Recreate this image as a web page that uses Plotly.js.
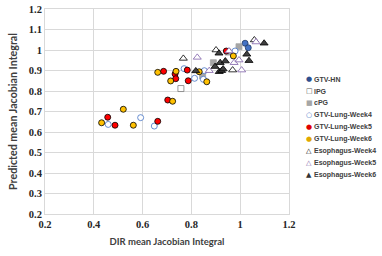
<!DOCTYPE html>
<html><head><meta charset="utf-8">
<script src="https://cdn.plot.ly/plotly-3.0.1.min.js"></script>
<style>html,body{margin:0;padding:0;background:#fff}#chart{width:382px;height:256px}</style>
</head><body><div id="chart"></div>
<script>
// ---- data ----
const seriesNames = ["GTV-HN","lPG","cPG","GTV-Lung-Week4","GTV-Lung-Week5","GTV-Lung-Week6","Esophagus-Week4","Esophagus-Week5","Esophagus-Week6"];

const hnX = [1.020, 1.033];
const hnY = [1.033, 1.011];

const lpgX = [0.757];
const lpgY = [0.812];

const cpgX = [0.846, 0.890, 0.950, 0.995];
const cpgY = [0.873, 0.938, 0.990, 1.016];

const lung4X = [0.459, 0.592, 0.648, 0.770, 0.813, 0.853, 0.849, 0.979];
const lung4Y = [0.637, 0.670, 0.629, 0.909, 0.862, 0.899, 0.857, 0.995];

const lung5X = [0.457, 0.487, 0.662, 0.703, 0.686, 0.733, 0.736, 0.783, 0.787, 0.943];
const lung5Y = [0.672, 0.633, 0.652, 0.756, 0.896, 0.883, 0.860, 0.902, 0.850, 0.995];

const lung6X = [0.432, 0.521, 0.562, 0.723, 0.662, 0.737, 0.715, 0.832, 0.863, 0.972];
const lung6Y = [0.645, 0.711, 0.633, 0.750, 0.891, 0.896, 0.849, 0.894, 0.845, 0.971];

const eso4X = [0.767, 0.901, 0.969, 1.058];
const eso4Y = [0.959, 1.000, 0.902, 1.049];

const eso5X = [0.824, 0.873, 0.954, 0.975, 0.995, 1.006, 1.065];
const eso5Y = [0.964, 0.899, 0.995, 0.938, 0.951, 0.902, 1.039];

const eso6X = [0.818, 0.897, 0.918, 0.914, 0.924, 0.930, 0.913, 0.939, 1.027, 1.036, 1.098];
const eso6Y = [0.898, 0.919, 0.938, 0.894, 0.899, 0.907, 0.984, 0.946, 0.979, 0.948, 1.033];

const xTickVals = [0.2, 0.4, 0.6, 0.8, 1, 1.2];
const xTickText = ["0.2","0.4","0.6","0.8","1","1.2"];
const yTickVals = [0.2,0.3,0.4,0.5,0.6,0.7,0.8,0.9,1,1.1,1.2];
const yTickText = ["0.2","0.3","0.4","0.5","0.6","0.7","0.8","0.9","1","1.1","1.2"];

// ---- styles ----
const styles = [
  {symbol:"circle", color:"#4472C4", line:"#1F3864", glyph:"\u25CF", gcolor:"#2F4F8F"},
  {symbol:"square-open", color:"#7F7F7F", line:"#7F7F7F", glyph:"\u25A1", gcolor:"#555"},
  {symbol:"square", color:"#A6A6A6", line:"#A6A6A6", glyph:"\u25A0", gcolor:"#A6A6A6"},
  {symbol:"circle", color:"#FFFFFF", line:"#4472C4", glyph:"\u25CB", gcolor:"#4472C4"},
  {symbol:"circle", color:"#FF0000", line:"#000000", glyph:"\u25CF", gcolor:"#E00000"},
  {symbol:"circle", color:"#FFC000", line:"#000000", glyph:"\u25CF", gcolor:"#E0A800"},
  {symbol:"triangle-up", color:"#FFFFFF", line:"#000000", glyph:"\u25B3", gcolor:"#000"},
  {symbol:"triangle-up", color:"#FFFFFF", line:"#7F5FA8", glyph:"\u25B3", gcolor:"#7F5FA8"},
  {symbol:"triangle-up", color:"#404040", line:"#000000", glyph:"\u25B2", gcolor:"#333"}
];
const xs = [hnX, lpgX, cpgX, lung4X, lung5X, lung6X, eso4X, eso5X, eso6X];
const ys = [hnY, lpgY, cpgY, lung4Y, lung5Y, lung6Y, eso4Y, eso5Y, eso6Y];

const traces = seriesNames.map((n,i)=>({
  type:"scatter", mode:"markers", name:n, x:xs[i], y:ys[i],
  marker:{symbol:styles[i].symbol, size: styles[i].symbol.indexOf("triangle")===0?7:6,
    color:styles[i].color, line:{color:styles[i].line, width:0.8}},
  showlegend:false, hoverinfo:"skip"
}));

// plot-area pixel frame: left 45, right 289, top 9, bottom 214
const W=382,H=256,L=45,R=289,T=9,B=214;
const annotations = [];
seriesNames.forEach((n,i)=>{
  const py = 79 + i*12;
  const yp = (B-py)/(B-T);
  annotations.push({xref:"paper", yref:"paper", x:(309-L)/(R-L), y:yp, text:styles[i].glyph,
    showarrow:false, xanchor:"center", yanchor:"middle",
    font:{family:"DejaVu Sans", size:7, color:styles[i].gcolor}});
  annotations.push({xref:"paper", yref:"paper", x:(312-L)/(R-L), y:yp, text:n,
    showarrow:false, xanchor:"left", yanchor:"middle",
    font:{family:"Liberation Sans", size:7, weight:"bold", color:"#404040"}});
});

const axisCommon = {
  showgrid:true, gridcolor:"#D9D9D9", gridwidth:1, zeroline:false,
  showline:true, mirror:true, linecolor:"#D9D9D9", linewidth:1,
  ticks:"", tickfont:{family:"Liberation Serif", size:10.5, weight:"bold", color:"#262626"}
};

const layout = {
  width:W, height:H, margin:{l:L, r:W-R, t:T, b:H-B},
  paper_bgcolor:"#fff", plot_bgcolor:"#fff", showlegend:false,
  xaxis:Object.assign({}, axisCommon, {range:[0.2,1.2], tickmode:"array", tickvals:xTickVals, ticktext:xTickText,
    title:{text:"DIR mean Jacobian Integral", standoff:9, font:{family:"Lato", size:9.5, weight:"bold", color:"#404040"}}}),
  yaxis:Object.assign({}, axisCommon, {range:[0.2,1.2], tickmode:"array", tickvals:yTickVals, ticktext:yTickText,
    title:{text:"Predicted mean Jacobian Integral", standoff:9, font:{family:"Lato", size:10.7, weight:"bold", color:"#404040"}}}),
  annotations:annotations
};

Plotly.newPlot("chart", traces, layout, {staticPlot:true, displayModeBar:false});
</script>
</body></html>
